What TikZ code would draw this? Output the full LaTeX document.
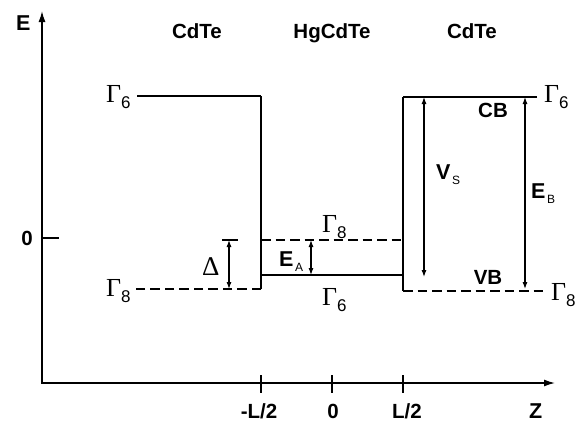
\documentclass[tikz,border=0pt]{standalone}
\usepackage{fontspec}
\setmainfont{Liberation Sans}
\newfontfamily\serifg{Liberation Serif}
\usetikzlibrary{arrows.meta}
\newcommand\Gm[1]{{\serifg\fontsize{26}{26}\selectfont Γ}\raisebox{-6pt}{\fontsize{17}{17}\selectfont #1}}
\newcommand\Sub[2]{\textbf{#1}\hspace{1.5pt}\raisebox{-5pt}{\fontsize{12}{12}\mdseries\selectfont #2}}
\begin{document}
\begin{tikzpicture}[x=1pt,y=-1pt,
 lbl/.style={font=\bfseries\fontsize{20.5}{20.5}\selectfont, inner sep=0, anchor=base},
 big/.style={font=\bfseries\fontsize{21.5}{21.5}\selectfont, inner sep=0, anchor=base west},
 gam/.style={inner sep=0, anchor=base west},
 level/.style={line width=1.7pt},
 dlevel/.style={line width=1.7pt, dash pattern=on 9.5pt off 5pt},
 wall/.style={line width=2.2pt},
 axis/.style={line width=1.4pt, {Latex[length=11pt,width=7pt]}-{Latex[length=11pt,width=7pt]}},
 dim/.style={line width=1.1pt, {Latex[length=7pt,width=5pt]}-{Latex[length=7pt,width=5pt]}},
 tickl/.style={line width=1.4pt}]
\useasboundingbox (0,0) rectangle (576,421);

% axes
\coordinate (O) at (42,383);
\coordinate (Etop) at (42,11);
\coordinate (Zend) at (555,383);
\draw[axis] (Etop) -- (O) -- (Zend);
\node[big] (Elab) at (16,30) {E};
\node[big] (Zlab) at (529,418) {Z};

% ticks
\coordinate (t0a) at (42,238); \coordinate (t0b) at (59,238);
\draw[tickl] (t0a) -- (t0b);
\node[lbl] (zero) at (27,245) {0};
\coordinate (tma) at (261,375); \coordinate (tmb) at (261,393);
\coordinate (tca) at (332,375); \coordinate (tcb) at (332,393);
\coordinate (tpa) at (403,375); \coordinate (tpb) at (403,393);
\draw[tickl] (tma) -- (tmb);
\draw[tickl] (tca) -- (tcb);
\draw[tickl] (tpa) -- (tpb);
\node[lbl] (lm) at (259,418) {-L/2};
\node[lbl] (lc) at (333,418) {0};
\node[lbl] (lp) at (407,418) {L/2};

% region titles
\node[lbl] (cd1) at (197,38) {CdTe};
\node[lbl] (hg) at (332,38) {HgCdTe};
\node[lbl] (cd2) at (472,38) {CdTe};

% left barrier
\coordinate (l1) at (137,96); \coordinate (l2) at (261,96);
\coordinate (l3) at (261,289); \coordinate (l4) at (133,289);
\draw[level] (l1) -- (l2);
\draw[wall] (l2) -- (l3);
\draw[dlevel] (l3) -- (l4);
\node[gam] (g6l) at (106,102) {\Gm{6}};
\node[gam] (g8l) at (106,296) {\Gm{8}};

% well
\coordinate (w1) at (261,240); \coordinate (w2) at (403,240);
\coordinate (w3) at (261,275); \coordinate (w4) at (403,275);
\draw[dlevel] (w1) -- (w2);
\draw[level] (w3) -- (w4);
\node[gam] (g8w) at (322,232) {\Gm{8}};
\node[gam] (g6w) at (322,305) {\Gm{6}};

% right barrier
\coordinate (r1) at (537,97); \coordinate (r2) at (403,97);
\coordinate (r3) at (403,291); \coordinate (r4) at (547,291);
\draw[level] (r1) -- (r2);
\draw[wall] (r2) -- (r3);
\draw[dlevel] (r3) -- (r4);
\node[gam] (g6r) at (544,102) {\Gm{6}};
\node[gam] (g8r) at (551,300) {\Gm{8}};
\node[lbl] (cb) at (493,117) {CB};
\node[lbl] (vb) at (488,284) {VB};

% Delta
\coordinate (da) at (229,240); \coordinate (db) at (229,289);
\coordinate (dba) at (222,240); \coordinate (dbb) at (238,240);
\draw[line width=1.3pt] (dba) -- (dbb);
\draw[dim] (da) -- (db);
\node[gam] (delta) at (202,275) {{\serifg\fontsize{27}{27}\selectfont Δ}};

% E_A
\coordinate (ea1) at (311,240); \coordinate (ea2) at (311,275);
\draw[dim] (ea1) -- (ea2);
\node[big] (EA) at (279,266) {\Sub{E}{A}};

% V_S
\coordinate (vs1) at (424,97); \coordinate (vs2) at (424,277);
\draw[dim] (vs1) -- (vs2);
\node[big] (VS) at (436,179) {\Sub{V}{S}};

% E_B
\coordinate (eb1) at (525,97); \coordinate (eb2) at (525,289);
\draw[dim] (eb1) -- (eb2);
\node[big] (EB) at (531,198) {\Sub{E}{B}};
\end{tikzpicture}
\end{document}
